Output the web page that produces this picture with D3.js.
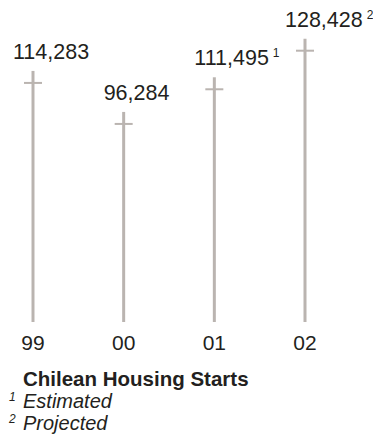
<!DOCTYPE html>
<html>
<head>
<meta charset="utf-8">
<script src="https://cdn.jsdelivr.net/npm/d3@7"></script>
<style>
  body { margin: 0; background: #fff; }
  text { font-family: "Liberation Sans", Arial, Helvetica, sans-serif; fill: #231f20; }
</style>
</head>
<body>
<div id="container"></div>
<script>
(function(){
  var years = ["99", "00", "01", "02"]
  var values = [114283, 96284, 111495, 128428]
  var notes = ["", "", "1", "2"]
  var footnotes = [["1", "Estimated"], ["2", "Projected"]]
  var title = "Chilean Housing Starts"

  var width = 373, height = 441
  var baseY = 322

  var svg = d3.select("#container").append("svg")
      .attr("width", width)
      .attr("height", height)

  var x = d3.scalePoint()
      .domain(years)
      .range([33, 305])

  var y = d3.scaleLinear()
      .domain([0, 128428])
      .range([343.3, 50.7])

  var fmt = d3.format(",")
  var grey = "#bab4b0"

  var g = svg.selectAll(".stem")
      .data(values)
      .enter().append("g")
      .attr("class", "stem")

  // vertical stem
  g.append("line")
      .attr("x1", (d, i) => x(years[i]))
      .attr("x2", (d, i) => x(years[i]))
      .attr("y1", d => y(d) - 12)
      .attr("y2", baseY)
      .attr("stroke", grey)
      .attr("stroke-width", 3)

  // crossbar at value
  g.append("line")
      .attr("x1", (d, i) => x(years[i]) - 9)
      .attr("x2", (d, i) => x(years[i]) + 9)
      .attr("y1", d => y(d))
      .attr("y2", d => y(d))
      .attr("stroke", grey)
      .attr("stroke-width", 2)

  // value label
  var lab = g.append("text")
      .attr("x", (d, i) => x(years[i]) - 20)
      .attr("y", d => y(d) - 24)
      .style("font-size", "21.5px")
  lab.append("tspan").text(d => fmt(d))
  lab.append("tspan")
      .attr("dx", 4)
      .attr("dy", -8)
      .style("font-size", "12px")
      .text((d, i) => notes[i])

  // year labels
  svg.selectAll(".year")
      .data(years)
      .enter().append("text")
      .attr("class", "year")
      .attr("x", d => x(d))
      .attr("y", 350)
      .attr("text-anchor", "middle")
      .style("font-size", "21px")
      .text(d => d)

  svg.append("text")
      .attr("x", 23)
      .attr("y", 386)
      .style("font-size", "20.5px")
      .style("font-weight", "bold")
      .text(title)

  var fn = svg.selectAll(".fn")
      .data(footnotes)
      .enter().append("text")
      .attr("class", "fn")
      .attr("x", 9)
      .attr("y", (d, i) => 408 + i * 22)
      .style("font-style", "italic")
  fn.append("tspan")
      .attr("dy", -7)
      .style("font-size", "12px")
      .text(d => d[0])
  fn.append("tspan")
      .attr("x", 23)
      .attr("dy", 7)
      .style("font-size", "20px")
      .text(d => d[1])
})()
</script>
</body>
</html>
